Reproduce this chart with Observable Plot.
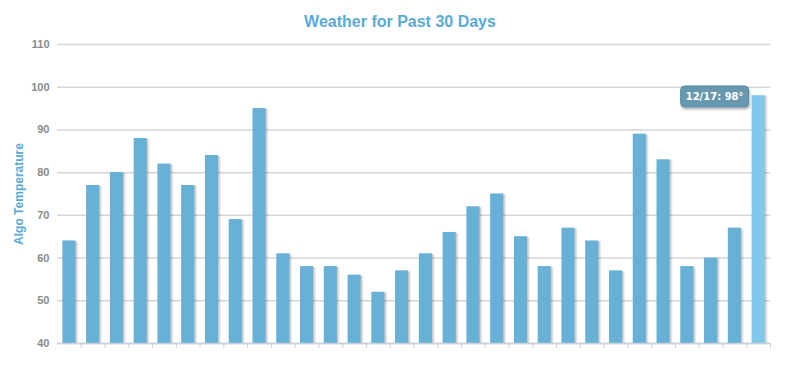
<!DOCTYPE html>
<html>
<head>
<meta charset="utf-8">
<script src="https://cdn.jsdelivr.net/npm/d3@7"></script>
<script src="https://cdn.jsdelivr.net/npm/@observablehq/plot@0.6"></script>
<style>
  html, body { margin: 0; padding: 0; background: #fff; }
  #title { height: 34px; font: bold 16px "Liberation Sans", Arial, sans-serif; line-height: 44px; text-align: center; color: #5aaad6; overflow: visible; }
  #chart svg { display: block; }
</style>
</head>
<body>
<div id="title">Weather for Past 30 Days</div>
<div id="chart"></div>
<script>
const dates = ["11/18","11/19","11/20","11/21","11/22","11/23","11/24","11/25","11/26","11/27","11/28","11/29","11/30",
  "12/1","12/2","12/3","12/4","12/5","12/6","12/7","12/8","12/9","12/10","12/11","12/12","12/13","12/14","12/15","12/16","12/17"];
const temps = [64,77,80,88,82,77,84,69,95,61,58,58,56,52,57,61,66,72,75,65,58,67,64,57,89,83,58,60,67,98];
const yTicks = [40,50,60,70,80,90,100,110];
const highlighted = "12/17";
const yLabel = "Algo Temperature";

const data = dates.map((d, i) => ({date: d, temp: temps[i]}));
const W = 800, H = 333, mL = 57, mR = 30, mT = 10, mB = 24;
const step = (W - mL - mR) / dates.length;

const chart = Plot.plot({
  width: W, height: H,
  marginLeft: mL, marginRight: mR, marginTop: mT, marginBottom: mB,
  style: {fontFamily: "'Liberation Sans', Arial, sans-serif", background: "#fff"},
  x: {type: "band", domain: dates, paddingInner: 0.45, paddingOuter: 0.225, round: false},
  y: {domain: [40, 110]},
  marks: [
    Plot.gridY(yTicks, {stroke: "#d6d6d6", strokeOpacity: 1, strokeWidth: 1.5}),
    Plot.axisY(yTicks, {tickSize: 0, tickPadding: 8, fill: "#8a8a8a", fontWeight: "bold", fontSize: 11, label: null}),
    Plot.text([yLabel], {frameAnchor: "left", textAnchor: "middle", rotate: -90, dx: -38, fill: "#5aaad6", fontWeight: "bold", fontSize: 12}),
    Plot.barY(data, {x: "date", y1: 40, y2: "temp", dx: 3, dy: 1, fill: "#000", fillOpacity: 0.06}),
    Plot.barY(data, {x: "date", y1: 40, y2: "temp", dx: 2, dy: 1, fill: "#000", fillOpacity: 0.09}),
    Plot.barY(data, {x: "date", y1: 40, y2: "temp", dx: 1, dy: 0, fill: "#000", fillOpacity: 0.08}),
    Plot.barY(data, {x: "date", y1: 40, y2: "temp", fill: d => d.date === highlighted ? "#80c8ec" : "#67b0d6"}),
    Plot.ruleY([40], {stroke: "#c6d2de", strokeWidth: 1.5}),
    Plot.axisX({tickSize: 5, tickFormat: () => "", stroke: "#c6d2de", dx: step / 2, label: null}),
    Plot.text(data.filter(d => d.date === highlighted), {
      x: "date", y: "temp", text: d => `${d.date}: ${d.temp}°`, dx: -44, dy: 1,
      fill: "#fff", fontWeight: "bold", fontSize: 10, fontFamily: "'DejaVu Sans', Verdana, sans-serif",
      className: "tipbox"
    })
  ]
});

document.getElementById("chart").appendChild(chart);

// tooltip background box
const svg = d3.select(chart);
const defs = svg.insert("defs", ":first-child");
const f = defs.append("filter").attr("id", "tipshadow").attr("x", "-20%").attr("y", "-20%").attr("width", "140%").attr("height", "160%");
f.append("feDropShadow").attr("dx", 1).attr("dy", 2).attr("stdDeviation", 1.2).attr("flood-color", "#000").attr("flood-opacity", 0.3);
svg.selectAll(".tipbox text").each(function() {
  const b = this.getBBox();
  const padX = 5, padY = 5;
  const r = d3.select(this.parentNode).insert("rect", () => this)
    .attr("x", b.x - padX).attr("y", b.y - padY)
    .attr("width", b.width + 2 * padX).attr("height", b.height + 2 * padY)
    .attr("rx", 4).attr("ry", 4)
    .attr("fill", "#6798b0").attr("stroke", "#5a8aa2").attr("stroke-width", 1)
    .attr("filter", "url(#tipshadow)");
  const t = this.getAttribute("transform");
  if (t) r.attr("transform", t);
});
</script>
</body>
</html>
